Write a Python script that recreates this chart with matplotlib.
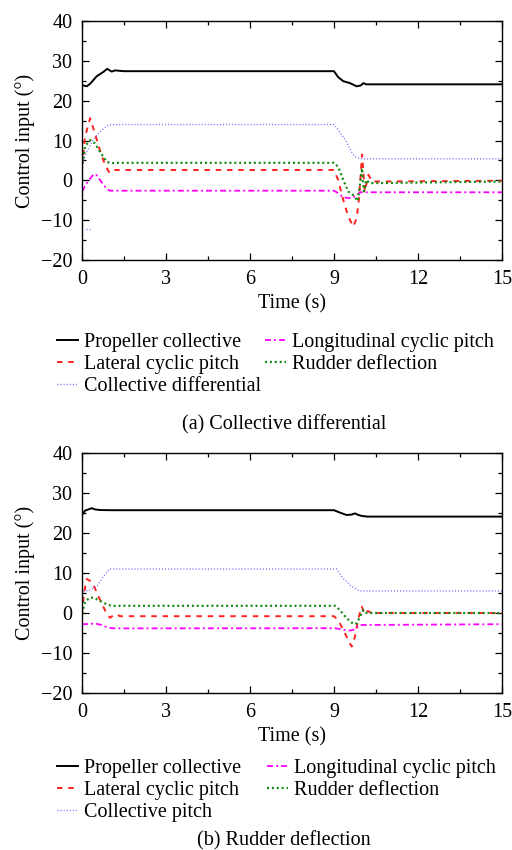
import numpy as np
import matplotlib
matplotlib.use("Agg")
import matplotlib.pyplot as plt
from matplotlib.ticker import MultipleLocator

plt.rcParams['font.family'] = ['Liberation Serif', 'DejaVu Serif']

# ---------------- Panel (a): Collective differential ----------------
prop_a_t = [0, 0.17, 0.3, 0.52, 0.76, 0.9, 1.06, 1.18, 1.5, 9.0, 9.15, 9.33, 9.57, 9.81, 9.95, 10.05, 10.15, 15]
prop_a_v = [23.9, 23.6, 24.3, 26.1, 27.2, 28.0, 27.3, 27.6, 27.4, 27.4, 25.9, 24.9, 24.4, 23.6, 23.8, 24.4, 24.1, 24.1]

red_a_t = [0, 0.11, 0.29, 0.46, 0.64, 0.82, 0.98, 1.12, 1.4, 9.0, 9.15, 9.33, 9.51, 9.69, 9.81, 9.9, 10.0, 10.1, 10.23, 10.35, 15]
red_a_v = [3.5, 11.0, 15.6, 11.8, 7.6, 3.9, 1.9, 2.6, 2.6, 2.6, 0.1, -4.9, -9.1, -11.6, -9.5, -4.1, 6.5, -2.8, 1.4, -0.3, -0.1]

blue_a_t = [0.05, 0.17, 0.40, 0.64, 0.94, 1.05, 9.0, 9.21, 9.45, 9.63, 9.75, 9.93, 15]
blue_a_v = [5.0, 7.2, 10.2, 12.2, 13.9, 14.0, 14.0, 12.1, 9.6, 7.1, 5.9, 5.4, 5.4]
blue_a_glitch_t = [0.15, 0.3]
blue_a_glitch_v = [-12.2, -12.2]

mag_a_t = [0, 0.17, 0.4, 0.5, 0.64, 0.82, 0.98, 1.2, 9.0, 9.15, 9.33, 9.63, 9.81, 9.93, 15]
mag_a_v = [-2.8, -0.7, 1.4, 1.5, 0.1, -1.6, -2.6, -2.6, -2.6, -3.2, -4.3, -4.5, -3.7, -3.0, -3.0]

green_a_t = [0, 0.11, 0.29, 0.46, 0.64, 0.88, 1.0, 1.3, 9.0, 9.15, 9.33, 9.51, 9.69, 9.85, 10.0, 10.07, 10.16, 10.27, 15]
green_a_v = [3.0, 8.5, 10.1, 9.3, 7.2, 4.7, 4.3, 4.4, 4.4, 3.4, 0.1, -2.8, -3.7, -5.2, 3.0, -2.8, 0.1, -0.7, -0.3]

# ---------------- Panel (b): Rudder deflection ----------------
prop_b_t = [0, 0.11, 0.35, 0.46, 0.64, 1.0, 9.0, 9.21, 9.45, 9.63, 9.75, 9.87, 10.0, 10.2, 15]
prop_b_v = [24.5, 25.6, 26.2, 25.9, 25.75, 25.7, 25.7, 25.1, 24.5, 24.6, 24.9, 24.5, 24.25, 24.1, 24.1]

red_b_t = [0, 0.07, 0.17, 0.35, 0.52, 0.7, 0.88, 1.0, 1.18, 1.36, 9.0, 9.15, 9.33, 9.51, 9.63, 9.75, 9.87, 9.99, 10.1, 10.2, 10.35, 15]
red_b_v = [-0.1, 4.9, 8.5, 7.8, 5.3, 2.4, -0.1, -1.2, -0.25, -0.8, -0.8, -1.75, -4.25, -6.75, -8.4, -5.9, -1.3, 1.6, -0.3, 0.5, 0.0, 0.0]

blue_b_t = [0.05, 0.29, 0.52, 0.76, 0.98, 9.1, 9.27, 9.57, 9.9, 15]
blue_b_v = [5.3, 5.75, 6.6, 9.1, 11.0, 11.0, 9.1, 7.0, 5.5, 5.5]

mag_b_t = [0, 0.29, 0.46, 0.7, 0.94, 1.2, 9.04, 9.27, 9.57, 9.75, 9.9, 15]
mag_b_v = [-2.8, -2.75, -2.6, -3.0, -3.7, -3.85, -3.8, -4.1, -4.4, -4.1, -3.0, -2.8]

green_b_t = [0, 0.11, 0.29, 0.46, 0.7, 0.94, 1.1, 9.04, 9.21, 9.45, 9.69, 9.81, 9.93, 10.05, 10.16, 15]
green_b_v = [-0.1, 2.8, 3.9, 3.7, 2.8, 2.0, 1.8, 1.8, 0.75, -1.3, -2.75, -2.6, -0.9, 0.75, 0.0, 0.0]

labels_a = ["Propeller collective", "Lateral cyclic pitch", "Collective differential",
            "Longitudinal cyclic pitch", "Rudder deflection"]
labels_b = ["Propeller collective", "Lateral cyclic pitch", "Collective pitch",
            "Longitudinal cyclic pitch", "Rudder deflection"]
captions = ["(a) Collective differential", "(b) Rudder deflection"]
xticks = [0, 3, 6, 9, 12, 15]
yticks = [-20, -10, 0, 10, 20, 30, 40]

C_BLACK = 'black'
C_RED = '#ff2020'
C_BLUE = '#7878ff'
C_MAG = '#ff00ff'
C_GREEN = '#108a10'

W, H = 512, 850
fig = plt.figure(figsize=(W / 100, H / 100), dpi=100)
FS = 14.5

def style_axes(ax):
    ax.set_xlim(0, 15)
    ax.set_ylim(-20, 40)
    ax.set_xticks(xticks)
    ax.set_yticks(yticks)
    ax.xaxis.set_minor_locator(MultipleLocator(1.5))
    ax.yaxis.set_minor_locator(MultipleLocator(5))
    ax.tick_params(which='both', direction='in', top=True, right=True, labelsize=FS, width=0.9)
    ax.tick_params(which='major', length=5)
    ax.tick_params(axis='x', which='major', pad=7)
    ax.tick_params(axis='y', which='major', pad=7)
    ax.tick_params(which='minor', length=3)
    for s in ax.spines.values():
        s.set_linewidth(1.0)
    ax.set_ylabel("Control input (°)", fontsize=FS, labelpad=4)
    ax.set_xlabel("Time (s)", fontsize=FS, labelpad=4)

def draw_panel(ax, data, glitch=None):
    (pt, pv), (rt, rv), (bt, bv), (mt, mv), (gt, gv) = data
    h_p, = ax.plot(pt, pv, color=C_BLACK, lw=1.4, ls='-')
    h_r, = ax.plot(rt, rv, color=C_RED, lw=1.4, ls=(0, (2.8, 3.0)))
    h_b, = ax.plot(bt, bv, color=C_BLUE, lw=1.0, ls=(0, (0.8, 1.4)))
    h_m, = ax.plot(mt, mv, color=C_MAG, lw=1.3, ls=(0, (3.3, 1.7, 1.1, 1.7)))
    h_g, = ax.plot(gt, gv, color=C_GREEN, lw=1.6, ls=(0, (0.9, 1.3)))
    if glitch is not None:
        ax.plot(glitch[0], glitch[1], color=C_BLUE, lw=1.0, ls=(0, (0.8, 1.4)))
    style_axes(ax)
    return [h_p, h_r, h_b, h_m, h_g]

ax1 = fig.add_axes([82 / W, 1 - 260 / H, 420 / W, 239 / H])
hs1 = draw_panel(ax1, [(prop_a_t, prop_a_v), (red_a_t, red_a_v), (blue_a_t, blue_a_v),
                       (mag_a_t, mag_a_v), (green_a_t, green_a_v)],
                 glitch=(blue_a_glitch_t, blue_a_glitch_v))

ax2 = fig.add_axes([82 / W, 1 - 693 / H, 420 / W, 240 / H])
hs2 = draw_panel(ax2, [(prop_b_t, prop_b_v), (red_b_t, red_b_v), (blue_b_t, blue_b_v),
                       (mag_b_t, mag_b_v), (green_b_t, green_b_v)])

def add_legend(hs, labels, top_px, x_px):
    fig.legend(hs, labels, loc='upper left', bbox_to_anchor=(x_px / W, 1 - top_px / H),
               ncol=1, frameon=False, fontsize=FS, handlelength=1.05, handletextpad=0.3,
               labelspacing=0.14, borderpad=0, borderaxespad=0)

add_legend(hs1[:3], labels_a[:3], 333, 57)
add_legend(hs1[3:], labels_a[3:], 333, 265)
add_legend(hs2[:3], labels_b[:3], 759, 57)
add_legend(hs2[3:], labels_b[3:], 759, 267)

fig.text(284 / W, 1 - 425 / H, captions[0], ha='center', va='center', fontsize=FS)
fig.text(284 / W, 1 - 841 / H, captions[1], ha='center', va='center', fontsize=FS)

fig.savefig("out.png", dpi=100)
